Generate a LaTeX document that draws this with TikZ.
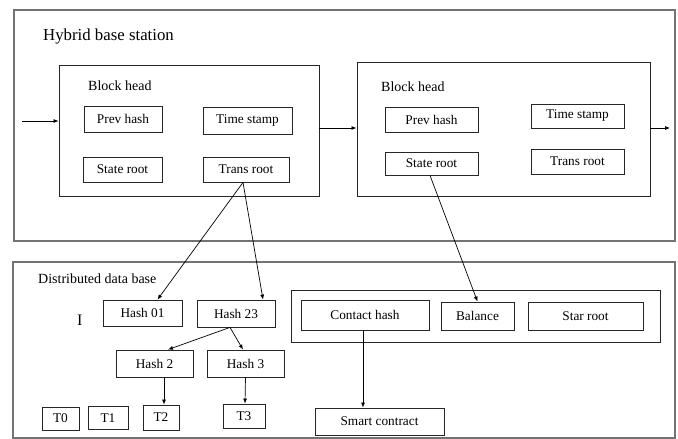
\documentclass[tikz,border=0pt]{standalone}
\usepackage{fontspec}
\setmainfont{Liberation Serif}
\usetikzlibrary{arrows.meta}
\definecolor{framegray}{rgb}{0.45,0.45,0.45}

\begin{document}
\begin{tikzpicture}[x=1pt,y=-1pt,
  outer/.style={draw=framegray,line width=1.2pt,inner sep=0pt},
  block/.style={draw=black!85,line width=0.9pt,inner sep=0pt},
  field/.style={draw=black!85,line width=0.8pt,inner sep=0pt,font=\fontsize{13.3}{15}\selectfont},
  title/.style={anchor=west,inner sep=0pt,font=\fontsize{14}{16}\selectfont},
  link/.style={line width=0.7pt,-{Latex[length=5pt,width=4pt]}}]

\useasboundingbox (0,0) rectangle (678,439);

\node[outer,minimum width=661pt,minimum height=231pt] (station) at (344.5,125.5) {};
\node[outer,minimum width=662pt,minimum height=176pt] (database) at (344,350) {};
\node[title,font=\fontsize{16.8}{19}\selectfont] (stationlbl) at (43,36) {Hybrid base station};
\node[title] (databaselbl) at (38,279) {Distributed data base};

% first block
\node[block,minimum width=260pt,minimum height=131pt] (blockA) at (189,130.5) {};
\node[title] (headA) at (88,86) {Block head};
\node[field,minimum width=78pt,minimum height=26pt] (prevA) at (123,119) {Prev hash};
\node[field,minimum width=89pt,minimum height=27pt] (timeA) at (247.5,120.5) {Time stamp};
\node[field,minimum width=79pt,minimum height=25pt] (stateA) at (122.5,169.5) {State root};
\node[field,minimum width=86pt,minimum height=25pt] (transA) at (246,169.5) {Trans root};

% second block
\node[block,minimum width=293pt,minimum height=134pt] (blockB) at (503.5,129) {};
\node[title] (headB) at (381,87) {Block head};
\node[field,minimum width=93pt,minimum height=25pt] (prevB) at (431.5,119.5) {Prev hash};
\node[field,minimum width=93pt,minimum height=24pt] (timeB) at (577.5,116) {Time stamp};
\node[field,minimum width=93pt,minimum height=23pt] (stateB) at (431.5,163.5) {State root};
\node[field,minimum width=93pt,minimum height=25pt] (transB) at (577.5,161.5) {Trans root};

\coordinate (chainin) at (22,121);
\coordinate (chainout) at (670,128);
\draw[link] (chainin) -- ([yshift=9.5pt]blockA.west);
\draw[link] ([yshift=2.5pt]blockA.east) -- ([yshift=1pt]blockB.west);
\draw[link] ([yshift=1pt]blockB.east) -- (chainout);

% merkle tree
\node[title,font=\fontsize{16}{18}\selectfont] (level) at (77,320) {I};
\node[field,minimum width=79pt,minimum height=26pt] (hash01) at (142.5,313) {Hash 01};
\node[field,minimum width=78pt,minimum height=27pt] (hash23) at (236,313.5) {Hash 23};
\node[field,minimum width=77pt,minimum height=27pt] (hash2) at (154.5,363.5) {Hash 2};
\node[field,minimum width=77pt,minimum height=27pt] (hash3) at (245.5,363.5) {Hash 3};
\node[field,minimum width=37pt,minimum height=23pt] (tx0) at (60.5,418.5) {T0};
\node[field,minimum width=40pt,minimum height=23pt] (tx1) at (108,418) {T1};
\node[field,minimum width=36pt,minimum height=25pt] (tx2) at (161,417.5) {T2};
\node[field,minimum width=42pt,minimum height=24pt] (tx3) at (244,416) {T3};

% account state
\node[block,minimum width=369pt,minimum height=52pt] (account) at (475.5,316) {};
\node[field,minimum width=128pt,minimum height=30pt] (contact) at (365,315) {Contact hash};
\node[field,minimum width=73pt,minimum height=28pt] (balance) at (477.5,316) {Balance};
\node[field,minimum width=115pt,minimum height=28pt] (starroot) at (585.5,316) {Star root};
\node[field,minimum width=129pt,minimum height=27pt] (smart) at (379.5,421.5) {Smart contract};

\draw[link] ([xshift=-3pt]transA.south) -- ([xshift=15pt]hash01.north);
\draw[link] ([xshift=-3pt]transA.south) -- ([xshift=27pt]hash23.north);
\draw[link] ([xshift=-1.5pt]stateB.south) -- (balance.north);
\draw[link] ([xshift=-6pt]hash23.south) -- ([xshift=13.5pt]hash2.north);
\draw[link] ([xshift=-6pt]hash23.south) -- ([xshift=-2.5pt]hash3.north);
\draw[link] ([xshift=9.5pt]hash2.south) -- ([xshift=3pt]tx2.north);
\draw[link] (hash3.south) -- ([xshift=1pt]tx3.north);
\draw[link] ([xshift=-2pt]contact.south) -- ([xshift=-16.5pt]smart.north);
\end{tikzpicture}
\end{document}
